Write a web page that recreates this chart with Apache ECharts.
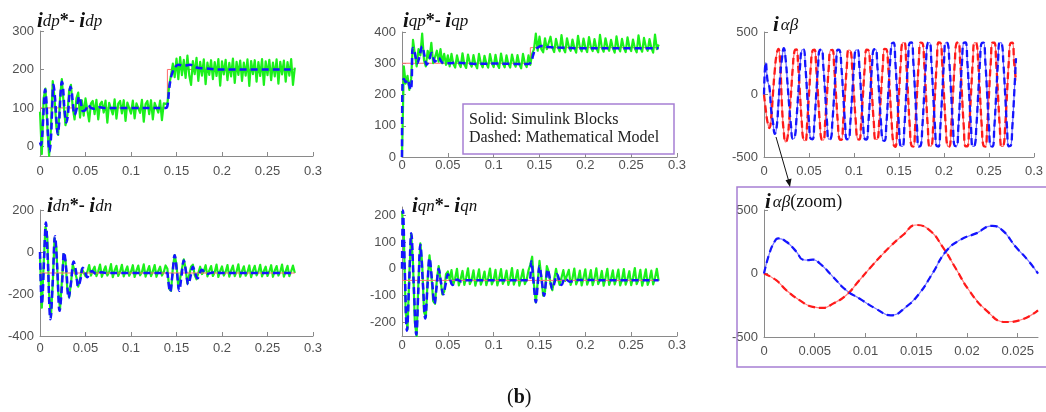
<!DOCTYPE html>
<html><head><meta charset="utf-8">
<script src="https://cdn.jsdelivr.net/npm/echarts@6/dist/echarts.min.js"></script>
<style>html,body{margin:0;padding:0;background:#fff}#c{width:1046px;height:412px}</style>
</head><body><div id="c"></div>
<script>
// shared sample times (s) for the simulated traces
const T = [
0,0.002,0.004,0.006,0.008,0.01,0.012,0.014,0.016,0.018,
0.02,0.022,0.024,0.026,0.028,0.03,0.032,0.034,0.036,0.038,
0.04,0.042,0.044,0.046,0.048,0.05,0.052,0.054,0.056,0.058,
0.06,0.062,0.064,0.066,0.068,0.07,0.072,0.074,0.076,0.078,
0.08,0.082,0.084,0.086,0.088,0.09,0.092,0.094,0.096,0.098,
0.1,0.102,0.104,0.106,0.108,0.11,0.112,0.114,0.116,0.118,
0.12,0.122,0.124,0.126,0.128,0.13,0.132,0.134,0.136,0.138,
0.14,0.142,0.144,0.146,0.148,0.15,0.152,0.154,0.156,0.158,
0.16,0.162,0.164,0.166,0.168,0.17,0.172,0.174,0.176,0.178,
0.18,0.182,0.184,0.186,0.188,0.19,0.192,0.194,0.196,0.198,
0.2,0.202,0.204,0.206,0.208,0.21,0.212,0.214,0.216,0.218,
0.22,0.222,0.224,0.226,0.228,0.23,0.232,0.234,0.236,0.238,
0.24,0.242,0.244,0.246,0.248,0.25,0.252,0.254,0.256,0.258,
0.26,0.262,0.264,0.266,0.268,0.27,0.272,0.274,0.276,0.278,
0.28];

const X_TICKS = [0,0.05,0.1,0.15,0.2,0.25,0.3];
const X_ZOOM_TICKS = [0,0.005,0.01,0.015,0.02,0.025];
const Y_IDP_TICKS = [0,100,200,300];
const Y_IQN_TICKS = [-200,-100,0,100,200];

// ---- idp ----
const IDP_REF = [[0,100],[0.14,100],[0.14,200],[0.28,200]];
const IDP_MODEL = [[0,10],[0.001,3],[0.002,15],[0.003,50],[0.004,95],[0.005,138],[0.0055,148],[0.006,145],[0.007,120],[0.008,70],[0.009,20],[0.0105,-13],[0.012,20],[0.013,75],[0.014,140],[0.0145,160],[0.015,158],[0.016,140],[0.017,110],[0.018,70],[0.0195,32],[0.021,60],[0.022,110],[0.023,150],[0.024,168],[0.025,160],[0.026,130],[0.027,95],[0.029,62],[0.031,90],[0.032,125],[0.0335,155],[0.035,140],[0.036,115],[0.038,82],[0.04,95],[0.042,122],[0.043,130],[0.045,112],[0.047,92],[0.05,95],[0.053,108],[0.056,100],[0.06,98],[0.065,102],[0.07,100],[0.1,100],[0.138,100],[0.14,105],[0.142,150],[0.144,180],[0.146,195],[0.148,205],[0.152,212],[0.158,210],[0.165,212],[0.172,205],[0.18,203],[0.2,200],[0.28,200]];
const IDP_SIM = [
90,-20,125,150,55,-25,45,170,125,50,
30,125,175,110,55,80,145,160,100,70,
125,140,75,120,80,125,
120,65,112,118,84,121,70,110,116,88,119,62,113,117,83,122,72,111,118,86,120,66,114,116,85,119,73,112,117,87,121,64,110,118,84,120,70,113,116,88,119,68,112,117,
110,160,185,215,180,228,175,232,185,225,
178,236,185,160,222,188,230,170,220,184,226,162,218,186,224,175,219,183,227,158,221,187,225,172,217,182,228,165,220,186,223,170,218,184,226,157,222,188,224,168,219,183,227,160,221,185,225,172,218,182,226,163,220,187,223,168,219,184,227,160,205];

// ---- iqp ----
const IQP_REF = [[0,300],[0.14,300],[0.14,350],[0.28,350]];
const IQP_MODEL = [[0,0],[0.0005,235],[0.002,250],[0.004,240],[0.006,248],[0.008,228],[0.0095,215],[0.0105,235],[0.0117,349],[0.0135,340],[0.0167,300],[0.019,320],[0.022,354],[0.0245,325],[0.027,295],[0.0295,310],[0.0325,333],[0.036,305],[0.04,318],[0.044,302],[0.05,300],[0.06,302],[0.08,298],[0.1,299],[0.12,298],[0.138,298],[0.141,305],[0.143,325],[0.145,342],[0.148,350],[0.152,355],[0.16,352],[0.17,350],[0.2,348],[0.24,348],[0.28,348]];
const IQP_SIM = [
0,290,235,260,215,250,375,330,290,345,
325,395,310,290,340,315,365,300,295,340,
305,345,300,330,295,325,
290,330,298,286,325,300,288,332,296,285,328,302,289,326,297,284,330,300,287,324,299,286,329,301,288,327,296,285,331,300,287,325,298,286,328,302,289,326,297,284,330,300,288,325,
295,330,345,395,340,385,345,335,380,345,
340,385,350,336,378,352,338,390,348,335,380,353,340,376,349,334,388,351,338,379,350,336,384,352,339,377,348,335,391,350,337,380,353,340,375,349,334,386,351,338,378,350,336,383,352,339,376,348,335,389,350,337,381,353,340,377,349,334,392,345,360];

// ---- i alpha beta ----
const IALPHA = [
0,-125,-225,-268,-185,10,195,320,365,245,
-95,-300,-380,-350,-205,5,215,350,360,225,
0,-225,-365,-370,-222,2,220,352,358,218,
-3,-222,-360,-365,-218,0,218,355,356,220,
0,-220,-358,-362,-220,3,222,356,352,216,
-2,-218,-356,-360,-222,0,220,358,355,220,
0,-222,-360,-358,-218,2,225,365,362,225,
0,-240,-400,-418,-258,0,256,414,416,258,
0,-255,-412,-416,-256,2,258,414,412,255,
-2,-256,-414,-412,-254,0,256,416,414,256,
0,-254,-412,-416,-258,-2,255,412,416,258,
0,-256,-414,-414,-255,0,257,416,412,254,
2,-255,-412,-416,-256,0,256,414,414,256,
0,-256,-416,-412,-254,2,258,412,414,255,
110];
const IBETA = [
0,255,108,60,-125,-225,-315,-263,-75,150,
290,370,285,100,-90,-250,-355,-348,-205,5,
220,355,360,222,0,-218,-355,-358,-220,-2,
218,356,358,220,2,-220,-357,-355,-218,0,
222,358,355,218,0,-222,-358,-356,-220,0,
220,355,357,222,-2,-218,-356,-360,-222,0,
222,360,362,225,0,-225,-365,-370,-235,0,
245,405,414,256,0,-256,-414,-416,-258,0,
256,414,416,255,-2,-258,-416,-412,-255,0,
254,412,416,258,0,-255,-414,-416,-256,2,
256,416,412,254,0,-256,-412,-414,-258,0,
255,414,416,256,2,-254,-416,-412,-255,0,
258,412,414,255,0,-256,-414,-416,-256,-2,
256,416,412,254,0,-258,-414,-412,-255,0,
290];

// ---- idn ----
const IDN_REF = [[0,-100],[0.28,-100]];
const IDN_MODEL = [[0,0],[0.001,-180],[0.002,-250],[0.003,-200],[0.0045,-30],[0.0065,140],[0.0085,-30],[0.0115,-320],[0.014,-140],[0.0165,75],[0.019,-80],[0.0215,-280],[0.024,-170],[0.0265,0],[0.029,-90],[0.0315,-220],[0.034,-150],[0.037,-45],[0.0395,-90],[0.042,-165],[0.0445,-130],[0.047,-75],[0.0495,-95],[0.052,-120],[0.0545,-105],[0.057,-90],[0.062,-105],[0.067,-97],[0.075,-100],[0.14,-100],[0.1405,-120],[0.143,-190],[0.1455,-110],[0.148,-15],[0.1505,-95],[0.153,-185],[0.1555,-115],[0.158,-40],[0.1605,-95],[0.163,-155],[0.1655,-115],[0.168,-70],[0.1705,-100],[0.173,-125],[0.178,-85],[0.183,-105],[0.19,-98],[0.2,-100],[0.28,-100]];
const IDN_SIM = [
-20,-265,-60,120,70,-200,-310,-150,65,20,
-190,-270,-140,-10,-40,-175,-215,-150,-60,-55,
-120,-165,-130,-80,-85,-115,
-95,-62,-112,-88,-70,-115,-92,-60,-118,-90,-68,-112,-95,-58,-120,-88,-66,-114,-93,-61,-116,-90,-69,-113,-94,-63,-119,-89,-65,-111,-96,-59,-117,-91,-67,-115,-92,-62,-118,-90,-70,-112,-95,-64,
-80,-175,-185,-75,-15,-60,-170,-175,-80,-35,-80,-150,-145,-70,-60,-110,-130,-100,-70,-105,
-92,-63,-116,-89,-67,-114,-95,-60,-119,-90,-69,-112,-94,-62,-117,-88,-65,-115,-93,-59,-118,-91,-68,-113,-96,-64,-120,-89,-66,-111,-94,-61,-116,-90,-70,-114,-93,-63,-118,-88,-67,-112,-95,-60,-117,-91,-66,-115,-92,-65,-100];

// ---- iqn ----
const IQN_REF = [[0,-43],[0.28,-43]];
const IQN_MODEL = [[0,0],[0.0005,150],[0.001,217],[0.003,0],[0.0054,-230],[0.0078,-50],[0.0101,132],[0.0128,-60],[0.0156,-245],[0.0178,-80],[0.02,90],[0.0227,-50],[0.0254,-185],[0.0277,-70],[0.03,40],[0.0328,-45],[0.0355,-130],[0.0378,-65],[0.04,0],[0.0425,-50],[0.045,-95],[0.0475,-60],[0.05,-20],[0.0525,-40],[0.055,-60],[0.06,-40],[0.065,-47],[0.07,-43],[0.139,-43],[0.141,28],[0.1435,-50],[0.146,-124],[0.148,-60],[0.15,10],[0.1525,-45],[0.155,-100],[0.157,-50],[0.159,-2],[0.1615,-40],[0.164,-75],[0.1665,-50],[0.169,-20],[0.1715,-40],[0.174,-60],[0.178,-35],[0.183,-48],[0.19,-42],[0.28,-43]];
const IQN_SIM = [
215,120,-160,-225,-20,130,20,-200,-250,-40,
95,20,-160,-180,-40,50,-20,-120,-130,-40,
10,-40,-95,-85,-20,-10,
-40,-5,-58,-35,0,-62,-38,-8,-60,-33,2,-57,-40,-6,-63,-36,-2,-59,-39,-10,-61,-34,1,-58,-41,-4,-62,-37,-1,-56,-40,-7,-60,-35,3,-59,-38,-5,-63,-34,-3,-57,-41,-6,
15,45,-60,-125,-50,30,-30,-100,-85,10,-10,-55,-80,-40,0,-35,-60,-55,-5,-45,
-38,-4,-60,-35,1,-58,-40,-7,-62,-33,-2,-59,-39,-5,-61,-36,2,-57,-41,-8,-63,-34,0,-60,-38,-6,-58,-35,-3,-62,-40,-1,-59,-37,-9,-61,-33,3,-57,-39,-4,-63,-36,-2,-60,-40,-7,-58,-34,0,-45];

// ---- i alpha beta (zoom) ----
const ZOOM_ALPHA = [[0,0],[0.0012,-53],[0.0022,-132],[0.0035,-210],[0.0048,-263],[0.0058,-271],[0.0068,-237],[0.0081,-171],[0.0094,-53],[0.0107,66],[0.0124,210],[0.0137,303],[0.015,382],[0.0163,342],[0.0176,210],[0.0189,39],[0.0202,-132],[0.0219,-290],[0.0238,-382],[0.0252,-368],[0.027,-290]];
const ZOOM_BETA = [[0,0],[0.0005,150],[0.001,245],[0.0014,276],[0.0022,250],[0.0032,171],[0.0038,110],[0.0043,105],[0.0048,110],[0.0055,79],[0.0068,-26],[0.0081,-132],[0.0094,-197],[0.011,-276],[0.0125,-329],[0.014,-263],[0.0153,-158],[0.0166,0],[0.0179,171],[0.0193,263],[0.0209,316],[0.0225,375],[0.0235,340],[0.0248,210],[0.026,105],[0.027,0]];

// ------------------------------------------------------------
const GREEN = '#1cf01c', BLUE = '#1414ff', REF = '#ff6b6b', RED = '#ff1a1a';
const AX = '#8a8a8a', LBL = '#505050';
const zipT = v => T.map((t, i) => [t, v[i]]);

const grids = [
  {left: 40, top: 31, width: 273, height: 125},
  {left: 402, top: 32, width: 275, height: 125},
  {left: 764, top: 32, width: 276, height: 125},
  {left: 40, top: 210, width: 273, height: 126},
  {left: 402, top: 207, width: 275, height: 129},
  {left: 764, top: 210, width: 274, height: 127}
];

function xa(gi, max, ticks, margin) {
  return {
    type: 'value', gridIndex: gi, min: 0, max: max,
    axisLine: {onZero: false, lineStyle: {color: AX, width: 1}},
    axisTick: {inside: true, length: 4, lineStyle: {color: AX}, customValues: ticks},
    axisLabel: {color: LBL, fontSize: 13, fontFamily: 'Liberation Sans', margin: margin, customValues: ticks,
      formatter: v => String(v)},
    splitLine: {show: false}
  };
}
function ya(gi, min, max, ticks) {
  return {
    type: 'value', gridIndex: gi, min: min, max: max,
    axisLine: {show: true, onZero: false, lineStyle: {color: AX, width: 1}},
    axisTick: {show: true, inside: true, length: 4, lineStyle: {color: AX}, customValues: ticks},
    axisLabel: {color: LBL, fontSize: 13, fontFamily: 'Liberation Sans', margin: 6, customValues: ticks},
    splitLine: {show: false}
  };
}
function ln(gi, data, color, width, dash, z, smooth) {
  return {
    type: 'line', xAxisIndex: gi, yAxisIndex: gi, data: data, showSymbol: false, symbol: 'none',
    smooth: smooth || false, silent: true, z: z, animation: false,
    lineStyle: {color: color, width: width, type: dash ? [7, 4] : 'solid', cap: 'butt', join: 'round'}
  };
}

const series = [
  ln(0, IDP_REF, REF, 1, false, 1),
  ln(0, zipT(IDP_SIM), GREEN, 2.2, false, 2),
  ln(0, IDP_MODEL, BLUE, 2.5, true, 4, 0.4),

  ln(1, IQP_REF, REF, 1, false, 1),
  ln(1, zipT(IQP_SIM), GREEN, 2.2, false, 2),
  ln(1, IQP_MODEL, BLUE, 2.5, true, 4, 0.4),

  ln(2, zipT(IALPHA), '#ff6a6a', 1.2, false, 2, true),
  ln(2, zipT(IBETA), '#6a6aff', 1.2, false, 2, true),
  ln(2, zipT(IALPHA), RED, 2.3, true, 3, true),
  ln(2, zipT(IBETA), BLUE, 2.3, true, 4, true),

  ln(3, zipT(IDN_SIM), GREEN, 2.2, false, 2),
  ln(3, IDN_REF, REF, 1, false, 3),
  ln(3, IDN_MODEL, BLUE, 2.5, true, 4, 0.4),

  ln(4, zipT(IQN_SIM), GREEN, 2.2, false, 2),
  ln(4, IQN_REF, REF, 1, false, 3),
  ln(4, IQN_MODEL, BLUE, 2.5, true, 4, 0.4),

  ln(5, ZOOM_ALPHA, '#ff7a7a', 1.2, false, 2, true),
  ln(5, ZOOM_BETA, '#7a7aff', 1.2, false, 2, true),
  ln(5, ZOOM_ALPHA, RED, 2.2, true, 3, true),
  ln(5, ZOOM_BETA, BLUE, 2.2, true, 4, true)
];

const serif = 'Liberation Serif';
const richT = {
  i: {fontFamily: serif, fontStyle: 'italic', fontWeight: 'bold', fontSize: 21, fill: '#111'},
  s: {fontFamily: serif, fontStyle: 'italic', fontSize: 17, fill: '#111'},
  g: {fontFamily: serif, fontStyle: 'italic', fontSize: 17, fill: '#111', padding: [0, 0, 0, 2]},
  o: {fontFamily: serif, fontWeight: 'bold', fontSize: 18, fill: '#111'},
  n: {fontFamily: serif, fontSize: 18, fill: '#111'}
};
function title(x, y, text) {
  return {type: 'text', left: x, top: y, z: 20, style: {text: text, rich: richT, fill: '#111'}};
}

const graphic = [
  title(37, 11, '{i|i}{s|dp}{o|*- }{i|i}{s|dp}'),
  title(403, 11, '{i|i}{s|qp}{o|*- }{i|i}{s|qp}'),
  title(773, 15, '{i|i}{g|αβ}'),
  title(47, 196, '{i|i}{s|dn}{o|*- }{i|i}{s|dn}'),
  title(412, 196, '{i|i}{s|qn}{o|*- }{i|i}{s|qn}'),
  title(765, 192, '{i|i}{g|αβ}{n|(zoom)}'),
  {type: 'rect', z: 15, shape: {x: 463, y: 104, width: 211, height: 50},
    style: {fill: '#fff', stroke: '#a67fd3', lineWidth: 1.5}},
  {type: 'text', z: 16, left: 469, top: 112, style: {text: 'Solid: Simulink Blocks', font: '16px "Liberation Serif"', fill: '#222'}},
  {type: 'text', z: 16, left: 469, top: 130, style: {text: 'Dashed: Mathematical Model', font: '16px "Liberation Serif"', fill: '#222'}},
  {type: 'rect', z: 15, shape: {x: 737, y: 187, width: 330, height: 180},
    style: {fill: 'none', stroke: '#a67fd3', lineWidth: 1.5}},
  {type: 'line', z: 16, shape: {x1: 776, y1: 137, x2: 789, y2: 182}, style: {stroke: '#111', lineWidth: 1}},
  {type: 'polygon', z: 16, shape: {points: [[790, 187], [791.5, 178.5], [785.5, 180.2]]}, style: {fill: '#111'}},
  {type: 'text', z: 16, left: 507, top: 388, style: {
    text: '{p|(}{b|b}{p|)}',
    rich: {p: {fontFamily: serif, fontSize: 20, fill: '#111'}, b: {fontFamily: serif, fontSize: 20, fontWeight: 'bold', fill: '#111'}}}}
];

const chart = echarts.init(document.getElementById('c'), null, {renderer: 'canvas'});
chart.setOption({
  animation: false,
  backgroundColor: '#fff',
  grid: grids,
  xAxis: [xa(0, 0.3, X_TICKS, 9), xa(1, 0.3, X_TICKS, 2), xa(2, 0.3, X_TICKS, 8),
          xa(3, 0.3, X_TICKS, 6), xa(4, 0.3, X_TICKS, 3), xa(5, 0.027, X_ZOOM_TICKS, 8)],
  yAxis: [ya(0, -25, 300, Y_IDP_TICKS), ya(1, 0, 400, [0,100,200,300,400]), ya(2, -500, 500, [-500,0,500]),
          ya(3, -400, 200, [-400,-200,0,200]), ya(4, -250, 230, Y_IQN_TICKS), ya(5, -500, 500, [-500,0,500])],
  series: series,
  graphic: graphic
});
</script></body></html>
